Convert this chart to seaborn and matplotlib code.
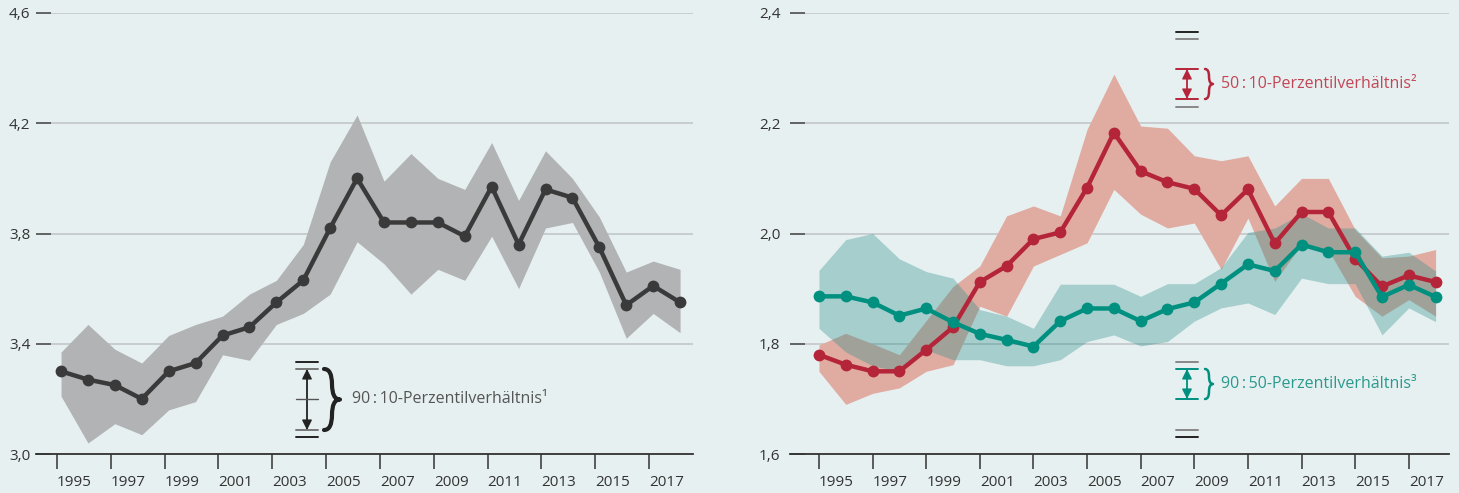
import matplotlib
matplotlib.use("Agg")
import matplotlib.pyplot as plt
import seaborn as sns
import pandas as pd
from matplotlib.lines import Line2D
from matplotlib.patches import FancyArrowPatch, PathPatch
from matplotlib.path import Path

# data
years = list(range(1995, 2019))

p90_10 = [3.30, 3.27, 3.25, 3.20, 3.30, 3.33, 3.43, 3.46, 3.55, 3.63, 3.82, 4.00,
          3.84, 3.84, 3.84, 3.79, 3.97, 3.76, 3.96, 3.93, 3.75, 3.54, 3.61, 3.55]
p90_10_hi = [3.37, 3.47, 3.38, 3.33, 3.43, 3.47, 3.50, 3.58, 3.63, 3.76, 4.06, 4.23,
             3.99, 4.09, 4.00, 3.96, 4.13, 3.92, 4.10, 4.00, 3.86, 3.66, 3.70, 3.67]
p90_10_lo = [3.21, 3.04, 3.11, 3.07, 3.16, 3.19, 3.36, 3.34, 3.47, 3.51, 3.58, 3.77,
             3.69, 3.58, 3.67, 3.63, 3.79, 3.60, 3.82, 3.84, 3.66, 3.42, 3.51, 3.44]

p50_10 = [1.780, 1.762, 1.750, 1.750, 1.789, 1.830, 1.912, 1.941, 1.990, 2.002, 2.083, 2.183,
          2.113, 2.093, 2.081, 2.033, 2.080, 1.982, 2.039, 2.039, 1.954, 1.904, 1.924, 1.912]
p50_10_hi = [1.798, 1.819, 1.800, 1.780, 1.842, 1.904, 1.941, 2.032, 2.050, 2.032, 2.189, 2.289,
             2.195, 2.191, 2.141, 2.132, 2.141, 2.050, 2.100, 2.100, 2.007, 1.956, 1.959, 1.971]
p50_10_lo = [1.750, 1.690, 1.710, 1.720, 1.750, 1.762, 1.868, 1.850, 1.941, 1.962, 1.983, 2.080,
             2.035, 2.010, 2.019, 1.935, 2.028, 1.913, 1.980, 1.970, 1.886, 1.850, 1.880, 1.850]

p90_50 = [1.886, 1.886, 1.875, 1.851, 1.864, 1.839, 1.818, 1.807, 1.795, 1.841, 1.864, 1.864,
          1.841, 1.863, 1.875, 1.909, 1.944, 1.932, 1.980, 1.966, 1.966, 1.885, 1.907, 1.885]
p90_50_hi = [1.933, 1.989, 2.000, 1.954, 1.931, 1.919, 1.862, 1.850, 1.828, 1.908, 1.908, 1.908,
             1.886, 1.909, 1.909, 1.938, 2.002, 2.010, 2.036, 2.010, 2.010, 1.959, 1.966, 1.932]
p90_50_lo = [1.828, 1.785, 1.760, 1.750, 1.789, 1.771, 1.771, 1.760, 1.760, 1.771, 1.804, 1.816,
             1.796, 1.804, 1.841, 1.865, 1.874, 1.853, 1.919, 1.909, 1.909, 1.816, 1.865, 1.840]

xticks = list(range(1995, 2018, 2))
left_yticks = [3.0, 3.4, 3.8, 4.2, 4.6]
left_ylabels = ["3,0", "3,4", "3,8", "4,2", "4,6"]
right_yticks = [1.6, 1.8, 2.0, 2.2, 2.4]
right_ylabels = ["1,6", "1,8", "2,0", "2,2", "2,4"]

label_90_10 = "90\u2009:\u200910-Perzentilverhältnis\u00b9"
label_50_10 = "50\u2009:\u200910-Perzentilverhältnis\u00b2"
label_90_50 = "90\u2009:\u200950-Perzentilverhältnis\u00b3"

BG = "#e7f0f1"
DARK = "#3a3a3a"
GREYBAND = "#b2b3b5"
RED = "#b5253a"
REDBAND = "#e0aca1"
TEAL = "#00907f"
TEALBAND = (38/255, 143/255, 138/255)

sns.set_theme(style="white")
plt.rcParams["font.family"] = ["Open Sans", "DejaVu Sans"]

W, H = 1459, 493
fig = plt.figure(figsize=(W/100, H/100), dpi=100, facecolor=BG)


def box(x0, y0, x1, y1):
    return [x0/W, 1 - y1/H, (x1 - x0)/W, (y1 - y0)/H]


def fx(x):
    return x/W


def fy(y):
    return 1 - y/H


ax1 = fig.add_axes(box(36, 13, 693, 454))
ax2 = fig.add_axes(box(790, 13, 1449, 454))


def style(ax, xlim, ylim, yt, yl, ypad, tshift):
    ax.set_facecolor(BG)
    ax.set_xlim(xlim)
    ax.set_ylim(ylim)
    ax.set_yticks(yt)
    ax.set_yticklabels(yl)
    ax.set_xticks([y - tshift for y in xticks])
    ax.set_xticklabels([str(y) for y in xticks], ha="left")
    for s in ["top", "right", "left"]:
        ax.spines[s].set_visible(False)
    ax.spines["bottom"].set_color("#333333")
    ax.spines["bottom"].set_linewidth(1.3)
    ax.grid(axis="y", color="#c5cacc", lw=1.3)
    ax.set_axisbelow(True)
    ax.tick_params(axis="y", left=True, direction="in", length=11, width=1.3, color="#5a5a5a",
                   pad=ypad, labelsize=11, labelcolor="#333333")
    ax.tick_params(axis="x", bottom=True, direction="out", length=11, width=1.1, color="#333333",
                   pad=4, labelsize=11, labelcolor="#333333")
    ax.set_xlabel("")
    ax.set_ylabel("")


# left panel
ax1.fill_between(years, p90_10_lo, p90_10_hi, color=GREYBAND, lw=0, zorder=1)
sns.lineplot(x=years, y=p90_10, ax=ax1, color=DARK, lw=3.2, marker="o",
             markersize=8.5, markeredgewidth=0, zorder=3)
style(ax1, (1994.07, 2018.48), (3.0, 4.6), left_yticks, left_ylabels, 4, 0.15)

# right panel
ax2.fill_between(years, p50_10_lo, p50_10_hi, color=REDBAND, lw=0, zorder=1)
ax2.fill_between(years, p90_50_lo, p90_50_hi, color=TEALBAND, alpha=0.34, lw=0, zorder=1.5)
sns.lineplot(x=years, y=p50_10, ax=ax2, color=RED, lw=3.2, marker="o",
             markersize=8.5, markeredgewidth=0, zorder=3)
sns.lineplot(x=years, y=p90_50, ax=ax2, color=TEAL, lw=3.2, marker="o",
             markersize=8.5, markeredgewidth=0, zorder=3)
style(ax2, (1993.92, 2018.5), (1.6, 2.4), right_yticks, right_ylabels, 7, 0.0)


# legend keys drawn in pixel space
def hline(x0, x1, y, color, lw=1.4):
    fig.add_artist(Line2D([fx(x0), fx(x1)], [fy(y), fy(y)], transform=fig.transFigure,
                          color=color, lw=lw))


def arrow(x, y0, y1, color):
    for a, b in [(y0, y1), (y1, y0)]:
        fig.add_artist(FancyArrowPatch((fx(x), fy(a)), (fx(x), fy(b)), transform=fig.transFigure,
                                       arrowstyle="-|>,head_length=0.5,head_width=0.25",
                                       color=color, lw=1.0, mutation_scale=12,
                                       shrinkA=0, shrinkB=0))


def brace(x, y0, y1, w, color, lw):
    ym = (y0 + y1) / 2
    r = min(w, (y1 - y0) / 4)
    pts = [(x, y0), (x + w/2, y0), (x + w/2, y0 + r),
           (x + w/2, ym - r), (x + w/2, ym), (x + w, ym),
           (x + w/2, ym), (x + w/2, ym + r),
           (x + w/2, y1 - r), (x + w/2, y1), (x, y1)]
    codes = [Path.MOVETO, Path.CURVE3, Path.CURVE3,
             Path.LINETO, Path.CURVE3, Path.CURVE3,
             Path.CURVE3, Path.CURVE3,
             Path.LINETO, Path.CURVE3, Path.CURVE3]
    verts = [(fx(a), fy(b)) for a, b in pts]
    fig.add_artist(PathPatch(Path(verts, codes), transform=fig.transFigure, fill=False,
                             edgecolor=color, lw=lw, capstyle="round", joinstyle="round"))


# 90:10 key (left)
hline(296, 318, 362, "#222222")
hline(296, 318, 369, "#777777")
hline(296, 318, 399, "#555555", 1.0)
hline(296, 318, 430, "#777777")
hline(296, 318, 437, "#222222")
arrow(307, 369, 430, "#222222")
brace(324, 369, 430, 16, "#222222", 3.0)
fig.text(fx(352), fy(399), label_90_10, ha="left", va="center", fontsize=11.5, color="#555555")

# 50:10 key
hline(1176, 1198, 32, "#222222")
hline(1176, 1198, 39, "#888888")
hline(1176, 1198, 69, RED)
hline(1176, 1198, 99, RED)
hline(1176, 1198, 107, "#888888")
arrow(1187, 69, 99, RED)
brace(1205, 69, 99, 8, RED, 1.8)
fig.text(fx(1221), fy(84), label_50_10, ha="left", va="center", fontsize=11.5, color="#c24656")

# 90:50 key
hline(1176, 1198, 362, "#888888")
hline(1176, 1198, 369, TEAL)
hline(1176, 1198, 399, TEAL)
hline(1176, 1198, 430, "#888888")
hline(1176, 1198, 437, "#222222")
arrow(1187, 369, 399, TEAL)
brace(1205, 369, 399, 8, TEAL, 1.8)
fig.text(fx(1221), fy(384), label_90_50, ha="left", va="center", fontsize=11.5, color="#2a9a8e")

fig.savefig("out.png", dpi=100, facecolor=BG)
